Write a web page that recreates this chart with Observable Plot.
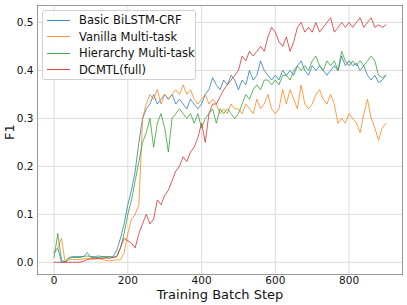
<!DOCTYPE html>
<html><head><meta charset="utf-8">
<script src="https://cdn.jsdelivr.net/npm/d3@7"></script>
<script src="https://cdn.jsdelivr.net/npm/@observablehq/plot@0.6"></script>
<style>
body{margin:0;background:#fff;font-family:"DejaVu Sans",sans-serif;}
#wrap{position:relative;width:407px;height:305px;}
#legend{position:absolute;left:42px;top:10px;width:154px;height:70px;border:1px solid #d0d0d0;border-radius:3px;background:rgba(255,255,255,0.85);box-sizing:border-box;padding-top:1px;}
.row{display:flex;align-items:center;height:16.5px;font-size:11.5px;color:#111;white-space:nowrap;}
.sw{width:23px;height:0;border-top:1px solid;margin-left:4px;margin-right:9px;opacity:.85}
</style></head>
<body><div id="wrap"><div id="chart"></div><div id="legend"></div></div>
<script>
const seriesNames = ["Basic BiLSTM-CRF","Vanilla Multi-task","Hierarchy Multi-task","DCMTL(full)"];
const seriesColors = ["#1f77b4","#ff7f0e","#2ca02c","#d62728"];
const steps = d3.range(0, 901, 10);
const xTicks = [0,200,400,600,800];
const yTicks = [0,0.1,0.2,0.3,0.4,0.5];

const basic = [0.02,0.03,0.0,0.002,0.008,0.01,0.01,0.01,0.012,0.02,
 0.01,0.01,0.01,0.011,0.01,0.011,0.012,0.025,0.05,0.08,
 0.12,0.15,0.19,0.25,0.30,0.32,0.33,0.35,0.33,0.34,
 0.35,0.34,0.35,0.33,0.34,0.33,0.32,0.34,0.33,0.32,
 0.33,0.35,0.36,0.385,0.37,0.36,0.38,0.37,0.39,0.38,
 0.36,0.38,0.37,0.40,0.38,0.39,0.42,0.40,0.39,0.38,
 0.39,0.38,0.40,0.39,0.40,0.39,0.41,0.42,0.40,0.39,
 0.41,0.40,0.41,0.40,0.39,0.40,0.41,0.40,0.43,0.41,
 0.42,0.41,0.415,0.40,0.41,0.39,0.38,0.39,0.375,0.38,0.39];
const vanilla = [0.02,0.03,0.05,0.0,0.005,0.006,0.006,0.006,0.007,0.008,
 0.007,0.008,0.008,0.006,0.004,0.003,0.004,0.005,0.005,0.02,
 0.06,0.09,0.10,0.12,0.30,0.33,0.35,0.34,0.36,0.33,
 0.35,0.34,0.35,0.36,0.35,0.37,0.35,0.36,0.34,0.33,
 0.34,0.35,0.33,0.34,0.33,0.31,0.32,0.31,0.33,0.32,
 0.32,0.31,0.33,0.32,0.31,0.34,0.32,0.33,0.35,0.32,
 0.31,0.32,0.36,0.33,0.36,0.34,0.32,0.37,0.33,0.32,
 0.33,0.35,0.36,0.34,0.33,0.35,0.33,0.29,0.30,0.29,
 0.31,0.30,0.29,0.27,0.31,0.34,0.30,0.28,0.255,0.28,0.29];
const hierarchy = [0.01,0.06,0.005,0.0,0.01,0.012,0.012,0.012,0.012,0.013,
 0.012,0.012,0.013,0.012,0.012,0.012,0.01,0.012,0.03,0.06,
 0.10,0.13,0.17,0.21,0.25,0.27,0.30,0.24,0.29,0.31,
 0.28,0.23,0.30,0.31,0.32,0.31,0.30,0.31,0.29,0.31,
 0.28,0.30,0.31,0.32,0.29,0.32,0.31,0.32,0.31,0.30,
 0.31,0.33,0.35,0.34,0.36,0.37,0.36,0.38,0.38,0.37,
 0.38,0.37,0.39,0.39,0.38,0.40,0.41,0.40,0.41,0.40,
 0.42,0.43,0.41,0.40,0.42,0.41,0.42,0.40,0.44,0.42,
 0.41,0.42,0.41,0.42,0.41,0.42,0.43,0.42,0.39,0.385,0.39];
const dcmtl = [0,0,0,0,0,0,0,0,0.002,0.006,
 0.007,0.007,0.008,0.008,0.009,0.008,0.01,0.012,0.03,0.05,
 0.045,0.04,0.03,0.06,0.08,0.10,0.08,0.09,0.13,0.12,
 0.14,0.15,0.17,0.19,0.20,0.22,0.21,0.23,0.24,0.26,
 0.29,0.25,0.31,0.33,0.33,0.345,0.36,0.37,0.38,0.39,
 0.40,0.43,0.42,0.44,0.43,0.44,0.45,0.44,0.47,0.49,
 0.48,0.46,0.45,0.47,0.44,0.46,0.49,0.50,0.48,0.49,
 0.48,0.50,0.48,0.49,0.50,0.51,0.48,0.49,0.50,0.49,
 0.50,0.49,0.50,0.51,0.49,0.50,0.51,0.49,0.495,0.49,0.495];

const allSeries = [basic, vanilla, hierarchy, dcmtl];
const rows = [];
allSeries.forEach((vals, si) => vals.forEach((v, i) => rows.push({step: steps[i], f1: v, series: seriesNames[si]})));

const chart = Plot.plot({
  width: 407, height: 305,
  marginLeft: 37, marginRight: 5, marginTop: 5, marginBottom: 31,
  style: {fontFamily: "DejaVu Sans, sans-serif", fontSize: "10px", color: "#111", background: "#fff"},
  x: {domain: [-45, 945], ticks: xTicks},
  y: {domain: [-0.0255, 0.5355], ticks: yTicks},
  color: {domain: seriesNames, range: seriesColors},
  marks: [
    Plot.gridX(xTicks, {stroke: "#dcdcdc", strokeOpacity: 1}),
    Plot.gridY(yTicks, {stroke: "#dcdcdc", strokeOpacity: 1}),
    Plot.axisX(xTicks, {tickSize: 0, tickPadding: 2, label: null, fontSize: 10.5}),
    Plot.axisY(yTicks, {tickSize: 0, tickPadding: 4, label: null, tickFormat: d3.format(".1f"), fontSize: 10.5}),
    Plot.line(rows, {x: "step", y: "f1", z: "series", stroke: "series", strokeWidth: 0.9, strokeOpacity: 0.85}),
    Plot.frame({stroke: "#999"}),
    Plot.text(["Training Batch Step"], {frameAnchor: "bottom", lineAnchor: "middle", dy: 20.5, fontSize: 13, fill: "#111"}),
    Plot.text(["F1"], {frameAnchor: "left", rotate: -90, dx: -28, fontSize: 13, fill: "#111"})
  ]
});
document.getElementById("chart").appendChild(chart);
const leg = document.getElementById("legend");
seriesNames.forEach((n, i) => {
  const r = document.createElement("div"); r.className = "row";
  const s = document.createElement("span"); s.className = "sw"; s.style.borderColor = seriesColors[i];
  const t = document.createElement("span"); t.textContent = n;
  r.appendChild(s); r.appendChild(t); leg.appendChild(r);
});
</script></body></html>
